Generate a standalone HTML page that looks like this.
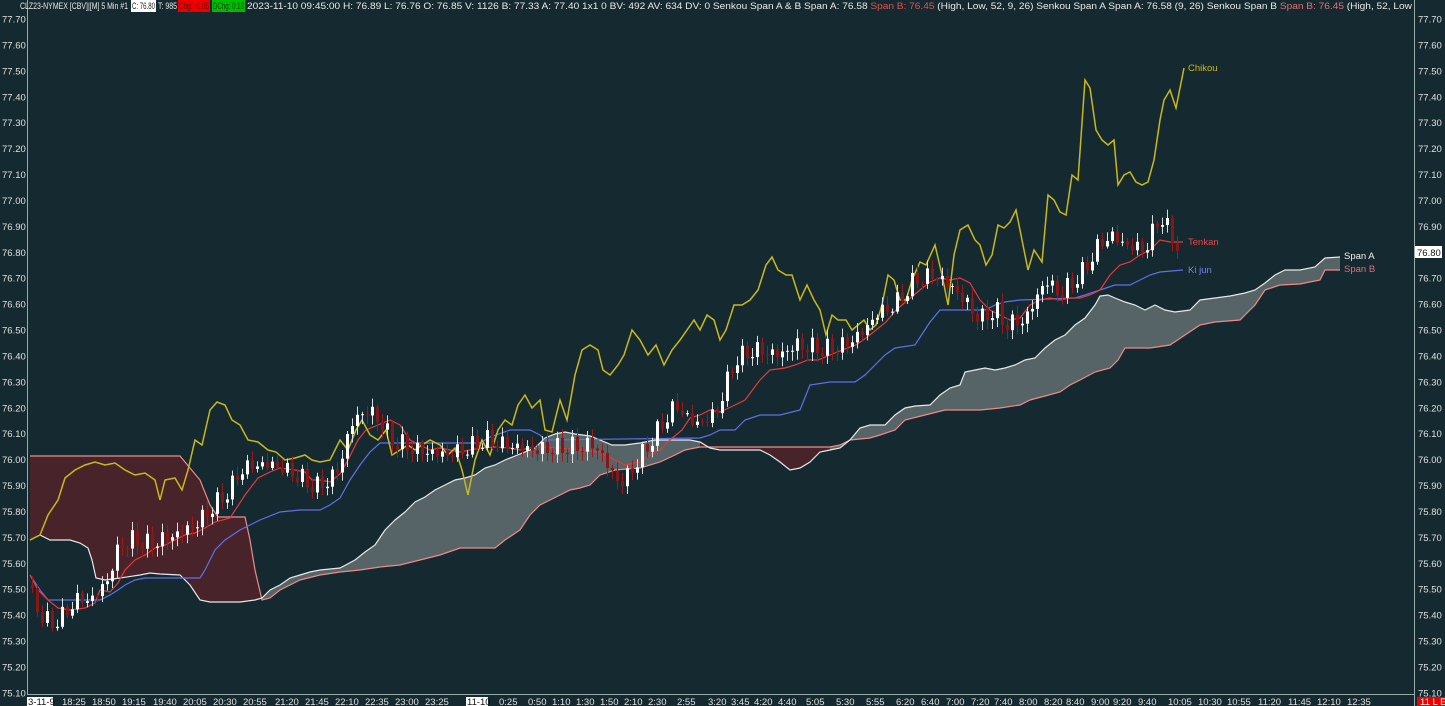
<!DOCTYPE html>
<html><head><meta charset="utf-8"><style>
body{margin:0;background:#152a30;width:1445px;height:706px;overflow:hidden;font-family:"Liberation Sans",sans-serif}
svg{position:absolute;left:0;top:0}
</style></head><body>
<svg id="s" width="1445" height="706" xmlns="http://www.w3.org/2000/svg" font-family="Liberation Sans, sans-serif">
<rect width="1445" height="706" fill="#152a30"/>
<g id="cloud"></g><g id="lines"></g><g id="candles"></g>
<line x1="27.5" y1="0" x2="27.5" y2="694" stroke="#9aa" stroke-width="1"/>
<line x1="1414.5" y1="0" x2="1414.5" y2="706" stroke="#9aa" stroke-width="1"/>
<line x1="27" y1="694.5" x2="1414" y2="694.5" stroke="#9aa" stroke-width="1"/>
<g font-size="9" fill="#e8e8e8">
<text x="20" y="9" textLength="108" lengthAdjust="spacingAndGlyphs">CLZ23-NYMEX [CBV]|[M]  5 Min   #1</text>
<rect x="131" y="0" width="25" height="12" fill="#fff"/><text x="132" y="9" fill="#222" textLength="23" lengthAdjust="spacingAndGlyphs">C: 76.80</text>
<text x="158" y="9" textLength="19" lengthAdjust="spacingAndGlyphs">T: 985</text>
<rect x="178" y="0" width="32" height="12" fill="#e00"/><text x="179" y="9" fill="#600" textLength="30" lengthAdjust="spacingAndGlyphs">Chg: -0.05</text>
<rect x="212" y="0" width="33" height="12" fill="#0b0"/><text x="213" y="9" fill="#040" textLength="31" lengthAdjust="spacingAndGlyphs">DChg: 0.18</text>
<text x="247" y="9" textLength="1165" lengthAdjust="spacingAndGlyphs">2023-11-10 09:45:00 H: 76.89 L: 76.76 O: 76.85 V: 1126 B: 77.33 A: 77.40 1x1 0 BV: 492 AV: 634 DV: 0 Senkou Span A &amp; B  Span A: 76.58  <tspan fill="#e05050">Span B: 76.45</tspan>  (High, Low, 52, 9, 26)  Senkou Span A  Span A: 76.58  (9, 26)  Senkou Span B  <tspan fill="#e07070">Span B: 76.45</tspan>  (High, 52, Low</text>
</g>
<rect x="1415" y="246" width="27" height="12" fill="#fff"/><text x="1417" y="256" font-size="9.5" fill="#111">76.80</text>
<g font-size="9.5" fill="#e0e0e0" id="xax">
<rect x="27" y="697" width="26" height="9" fill="#fff"/><text x="28" y="705" fill="#111">3-11-9</text>
<rect x="466" y="697" width="22" height="9" fill="#fff"/><text x="467" y="705" fill="#111">11-10</text>
<rect x="1417" y="697" width="28" height="9" fill="#e00"/><text x="1420" y="705" fill="#fff">11 L E</text>
<text x="62" y="705">18:25</text><text x="92" y="705">18:50</text><text x="122" y="705">19:15</text><text x="153" y="705">19:40</text><text x="183" y="705">20:05</text><text x="213" y="705">20:30</text><text x="243" y="705">20:55</text><text x="275" y="705">21:20</text><text x="305" y="705">21:45</text><text x="335" y="705">22:10</text><text x="365" y="705">22:35</text><text x="395" y="705">23:00</text><text x="425" y="705">23:25</text><text x="499" y="705">0:25</text><text x="528" y="705">0:50</text><text x="552" y="705">1:10</text><text x="576" y="705">1:30</text><text x="600" y="705">1:50</text><text x="624" y="705">2:10</text><text x="648" y="705">2:30</text><text x="677" y="705">2:55</text><text x="708" y="705">3:20</text><text x="731" y="705">3:45</text><text x="754" y="705">4:20</text><text x="778" y="705">4:40</text><text x="806" y="705">5:05</text><text x="836" y="705">5:30</text><text x="866" y="705">5:55</text><text x="896" y="705">6:20</text><text x="921" y="705">6:40</text><text x="946" y="705">7:00</text><text x="971" y="705">7:20</text><text x="994" y="705">7:40</text><text x="1019" y="705">8:00</text><text x="1044" y="705">8:20</text><text x="1066" y="705">8:40</text><text x="1091" y="705">9:00</text><text x="1113" y="705">9:20</text><text x="1138" y="705">9:40</text><text x="1168" y="705">10:05</text><text x="1198" y="705">10:30</text><text x="1227" y="705">10:55</text><text x="1258" y="705">11:20</text><text x="1288" y="705">11:45</text><text x="1317" y="705">12:10</text><text x="1347" y="705">12:35</text>
</g>
<g font-size="9.5">
<text x="1188" y="71" fill="#c8b820">Chikou</text>
<text x="1188" y="245" fill="#e04848">Tenkan</text>
<text x="1188" y="273" fill="#7080f0">Ki jun</text>
<text x="1344" y="259" fill="#f0f0f0">Span A</text>
<text x="1344" y="272" fill="#e07070">Span B</text>
</g>
<g font-size="9.5" fill="#e0e0e0">
<text x="2" y="22.5">77.70</text><text x="2" y="48.4">77.60</text><text x="2" y="74.3">77.50</text><text x="2" y="100.3">77.40</text><text x="2" y="126.2">77.30</text><text x="2" y="152.1">77.20</text><text x="2" y="178">77.10</text><text x="2" y="203.9">77.00</text><text x="2" y="229.9">76.90</text><text x="2" y="255.8">76.80</text><text x="2" y="281.7">76.70</text><text x="2" y="307.6">76.60</text><text x="2" y="333.5">76.50</text><text x="2" y="359.5">76.40</text><text x="2" y="385.4">76.30</text><text x="2" y="411.3">76.20</text><text x="2" y="437.2">76.10</text><text x="2" y="463.1">76.00</text><text x="2" y="489.1">75.90</text><text x="2" y="515">75.80</text><text x="2" y="540.9">75.70</text><text x="2" y="566.8">75.60</text><text x="2" y="592.7">75.50</text><text x="2" y="618.7">75.40</text><text x="2" y="644.6">75.30</text><text x="2" y="670.5">75.20</text><text x="2" y="696.4">75.10</text>
<text x="1418" y="22.5">77.70</text><text x="1418" y="48.4">77.60</text><text x="1418" y="74.3">77.50</text><text x="1418" y="100.3">77.40</text><text x="1418" y="126.2">77.30</text><text x="1418" y="152.1">77.20</text><text x="1418" y="178">77.10</text><text x="1418" y="203.9">77.00</text><text x="1418" y="229.9">76.90</text><text x="1418" y="281.7">76.70</text><text x="1418" y="307.6">76.60</text><text x="1418" y="333.5">76.50</text><text x="1418" y="359.5">76.40</text><text x="1418" y="385.4">76.30</text><text x="1418" y="411.3">76.20</text><text x="1418" y="437.2">76.10</text><text x="1418" y="463.1">76.00</text><text x="1418" y="489.1">75.90</text><text x="1418" y="515">75.80</text><text x="1418" y="540.9">75.70</text><text x="1418" y="566.8">75.60</text><text x="1418" y="592.7">75.50</text><text x="1418" y="618.7">75.40</text><text x="1418" y="644.6">75.30</text><text x="1418" y="670.5">75.20</text><text x="1418" y="696.4">75.10</text>
</g>
</svg>
<script>
(function(){
var NS="http://www.w3.org/2000/svg";
function el(p,t,a){var e=document.createElementNS(NS,t);for(var k in a)e.setAttribute(k,a[k]);document.getElementById(p).appendChild(e);return e;}
function P(a){return a.map(function(p){return p[0]+","+p[1]}).join(" ");}
var chik=[[30,540],[40,535],[48,515],[58,500],[65,478],[75,470],[85,465],[95,462],[105,465],[115,463],[125,470],[135,475],[145,473],[155,480],[160,500],[165,480],[175,478],[182,490],[188,470],[195,440],[202,445],[210,410],[217,402],[225,405],[232,420],[240,425],[248,440],[258,442],[268,450],[276,452],[285,460],[295,458],[305,455],[312,460],[320,462],[330,460],[340,440],[348,450],[356,430],[362,420],[370,435],[378,440],[386,430],[392,455],[400,450],[408,445],[415,450],[422,445],[430,440],[440,445],[448,455],[455,448],[462,470],[468,495],[475,460],[482,440],[490,455],[498,430],[505,420],[512,425],[518,405],[525,395],[532,408],[540,400],[545,430],[552,432],[560,400],[567,420],[575,375],[582,350],[590,345],[598,350],[603,370],[610,375],[618,365],[624,355],[632,330],[640,340],[648,355],[656,345],[664,365],[672,350],[680,340],[687,330],[694,320],[700,330],[707,315],[714,320],[720,340],[726,330],[734,305],[742,305],[750,300],[758,290],[766,265],[772,257],[778,270],[786,275],[792,275],[800,300],[807,285],[814,300],[820,310],[826,335],[832,315],[838,320],[846,320],[852,330],[858,325],[864,320],[870,330],[876,325],[882,305],[888,275],[894,280],[900,300],[906,300],[912,280],[920,262],[926,265],[935,245],[942,275],[948,305],[954,255],[960,230],[968,225],[975,240],[980,245],[986,265],[992,255],[998,225],[1004,228],[1010,222],[1016,210],[1022,240],[1028,270],[1034,250],[1042,262],[1048,195],[1054,200],[1060,212],[1066,215],[1072,175],[1078,180],[1085,80],[1090,88],[1096,130],[1102,140],[1108,145],[1114,140],[1118,185],[1124,175],[1130,172],[1136,182],[1142,185],[1148,182],[1154,160],[1160,120],[1164,100],[1170,90],[1176,108],[1184,68]];
var tenk=[[30,575],[38,590],[48,600],[58,608],[70,610],[85,608],[95,603],[100,590],[110,592],[118,583],[125,570],[135,560],[145,555],[155,548],[165,545],[175,540],[185,535],[195,533],[205,528],[215,522],[230,518],[245,495],[258,478],[270,472],[280,468],[295,470],[305,472],[312,480],[320,480],[330,482],[340,474],[348,460],[358,440],[366,430],[378,425],[390,420],[400,425],[410,440],[420,445],[430,450],[440,448],[450,450],[460,452],[470,450],[480,448],[495,447],[510,448],[520,450],[530,448],[540,447],[560,448],[580,450],[600,452],[615,460],[625,465],[640,462],[650,455],[660,450],[670,440],[682,430],[690,418],[700,415],[710,410],[720,412],[735,405],[745,400],[760,380],[770,370],[785,368],[795,365],[808,360],[818,360],[830,355],[842,350],[856,345],[866,338],[876,330],[886,322],[896,310],[908,300],[920,290],[930,282],[940,278],[950,280],[960,278],[970,283],[980,300],[990,310],[1000,315],[1010,320],[1020,318],[1030,305],[1040,300],[1050,298],[1060,300],[1070,298],[1080,298],[1090,295],[1100,290],[1110,275],[1120,265],[1130,262],[1140,255],[1150,250],[1160,240],[1170,242],[1183,242]];
var kij=[[30,575],[40,590],[48,600],[100,600],[110,595],[118,590],[125,585],[135,580],[145,578],[200,578],[205,570],[215,550],[225,540],[240,530],[260,520],[280,512],[300,510],[320,510],[330,505],[340,498],[350,480],[360,465],[370,452],[380,443],[480,443],[490,437],[510,430],[530,430],[540,435],[545,440],[700,438],[710,435],[720,430],[735,430],[745,420],[760,415],[780,415],[800,410],[810,385],[830,382],[855,382],[865,375],[875,365],[885,355],[895,348],[915,345],[930,322],[940,310],[985,310],[995,305],[1005,302],[1020,300],[1075,298],[1085,295],[1100,290],[1115,285],[1130,285],[1140,280],[1150,275],[1160,272],[1183,270]];
var spA=[[30,540],[40,535],[50,540],[70,540],[80,543],[88,548],[92,560],[96,578],[105,580],[120,578],[140,575],[150,573],[160,574],[180,575],[190,585],[200,600],[210,602],[240,602],[255,600],[262,598],[270,590],[280,585],[290,578],[300,575],[310,572],[320,570],[340,568],[355,560],[365,552],[375,545],[385,530],[395,520],[405,512],[415,502],[425,497],[435,490],[445,485],[455,480],[465,478],[475,475],[485,468],[495,465],[505,460],[515,456],[525,452],[535,448],[545,438],[555,434],[565,432],[575,434],[590,436],[600,440],[612,445],[625,445],[640,443],[655,440],[690,440],[700,442],[710,448],[720,450],[760,450],[770,455],[780,462],[790,470],[800,468],[810,462],[820,452],[830,450],[840,448],[850,440],[860,428],[870,425],[885,425],[895,415],[905,408],[915,406],[930,405],[940,395],[950,388],[960,385],[965,372],[975,370],[985,368],[995,370],[1005,368],[1015,365],[1025,360],[1035,358],[1045,348],[1055,340],[1065,335],[1075,325],[1085,318],[1095,305],[1100,296],[1108,295],[1115,298],[1125,302],[1135,305],[1145,310],[1155,305],[1165,310],[1175,312],[1190,310],[1200,300],[1215,298],[1230,296],[1245,293],[1255,290],[1265,283],[1275,275],[1285,270],[1300,270],[1315,267],[1325,258],[1340,257]];
var spB=[[30,456],[180,456],[190,468],[200,480],[210,505],[218,517],[245,517],[250,540],[255,570],[262,600],[270,598],[280,590],[290,585],[300,580],[320,575],[340,572],[360,570],[380,567],[400,565],[420,560],[440,555],[460,548],[495,548],[505,540],[520,530],[530,515],[540,505],[550,500],[560,495],[570,490],[580,488],[590,485],[595,480],[600,475],[615,470],[640,468],[660,462],[675,455],[685,450],[700,447],[830,447],[840,445],[850,440],[870,438],[880,435],[895,430],[905,420],[925,415],[945,410],[980,410],[1000,408],[1020,405],[1030,400],[1045,396],[1060,392],[1070,385],[1080,380],[1095,372],[1110,368],[1118,360],[1125,348],[1150,348],[1170,345],[1185,335],[1200,325],[1215,322],[1240,320],[1250,310],[1255,305],[1265,290],[1280,285],[1300,284],[1320,280],[1325,270],[1340,270]];
function seg(a,x0,x1){return a.filter(function(p){return p[0]>=x0&&p[0]<=x1});}
var rA=seg(spA,0,262),rB=seg(spB,0,262);
el("cloud","polygon",{points:P(rA.concat(rB.slice().reverse())),fill:"#48232a"});
var gA=seg(spA,262,1340),gB=seg(spB,262,1340);
el("cloud","polygon",{points:P(gA.concat(gB.slice().reverse())),fill:"#566467"});
var r2A=seg(spA,700,830),r2B=seg(spB,700,830);
el("cloud","polygon",{points:P(r2A.concat(r2B.slice().reverse())),fill:"#48232a"});
el("lines","polyline",{points:P(spB),fill:"none",stroke:"#f08a8a","stroke-width":1.2});
el("lines","polyline",{points:P(spA),fill:"none",stroke:"#e8e8e8","stroke-width":1.2});
el("lines","polyline",{points:P(kij),fill:"none",stroke:"#6070e8","stroke-width":1.2});
el("lines","polyline",{points:P(tenk),fill:"none",stroke:"#e83838","stroke-width":1.2});
el("lines","polyline",{points:P(chik),fill:"none",stroke:"#c8b820","stroke-width":1.5});
var g=[[32,585],[45,615],[55,625],[70,615],[80,600],[95,600],[110,585],[125,545],[140,540],[155,545],[165,540],[180,535],[200,525],[210,515],[220,505],[235,490],[245,470],[260,465],[280,465],[300,475],[320,488],[335,480],[345,465],[355,425],[370,410],[385,420],[395,440],[420,450],[450,455],[470,450],[490,440],[510,445],[540,450],[570,448],[600,445],[615,470],[625,485],[640,465],[660,435],[680,405],[700,425],[720,415],[740,360],[760,350],[785,355],[800,345],[830,350],[850,345],[870,330],[880,315],[900,305],[920,280],[940,275],[960,290],[985,320],[1000,310],[1010,325],[1030,320],[1040,300],[1050,280],[1065,295],[1080,280],[1090,270],[1100,250],[1115,235],[1130,245],[1150,250],[1165,215],[1180,245]];
function gy(x){for(var i=1;i<g.length;i++){if(x<=g[i][0]){var a=g[i-1],b=g[i];return a[1]+(b[1]-a[1])*(x-a[0])/(b[0]-a[0]);}}return g[g.length-1][1];}
var prev=gy(32);
for(var x=32;x<=1180;x+=5){
 var c=gy(x+5)+Math.sin(x*1.7)*7+Math.sin(x*0.37)*4;
 var o=prev; prev=c;
 var top=Math.min(o,c),bot=Math.max(o,c);if(bot-top<1)bot=top+1;
 var hi=top-2-Math.abs(Math.sin(x*2.3))*7,lo=bot+2+Math.abs(Math.cos(x*1.9))*7;
 var up=c<o;
 el("candles","line",{x1:x+0.5,y1:hi,x2:x+0.5,y2:lo,stroke:up?"#dcdcdc":"#a01818","stroke-width":1});
 el("candles","rect",{x:x-1,y:top,width:3,height:bot-top,fill:up?"#ffffff":"#8a1515"});
}
})();
</script>
</body></html>
